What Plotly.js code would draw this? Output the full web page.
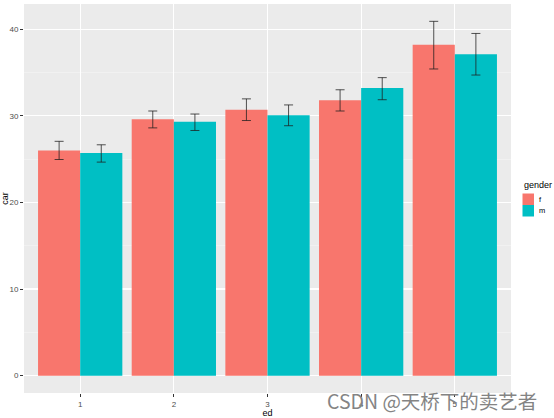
<!DOCTYPE html>
<html>
<head>
<meta charset="utf-8">
<script src="https://cdn.plot.ly/plotly-3.0.1.min.js"></script>
<style>html,body{margin:0;padding:0;background:#fff;}#chart{width:554px;height:418px;}</style>
</head>
<body>
<div id="chart"></div>
<script>
const edLevels = [1, 2, 3, 4, 5];
const genders = ['f', 'm'];
const genderColors = ['#F8766D', '#00BFC4'];
const fMean  = [26.0, 29.6, 30.7, 31.8, 38.2];
const fLower = [24.95, 28.6, 29.45, 30.55, 35.4];
const fUpper = [27.05, 30.55, 31.95, 33.0, 40.9];
const mMean  = [25.7, 29.3, 30.05, 33.2, 37.1];
const mLower = [24.65, 28.3, 28.85, 31.85, 34.7];
const mUpper = [26.65, 30.2, 31.25, 34.4, 39.5];

function errBar(mean, lo, hi) {
  return {
    type: 'data', symmetric: false,
    array: hi.map((v, i) => v - mean[i]),
    arrayminus: mean.map((v, i) => v - lo[i]),
    color: 'rgba(30,30,30,0.85)', thickness: 0.9, width: 4.5
  };
}

const traces = [
  {type: 'bar', name: genders[0], x: edLevels, y: fMean, marker: {color: genderColors[0]},
   error_y: errBar(fMean, fLower, fUpper)},
  {type: 'bar', name: genders[1], x: edLevels, y: mMean, marker: {color: genderColors[1]},
   error_y: errBar(mMean, mLower, mUpper)}
];

// plot geometry (pixels)
const W = 554, H = 418, ML = 24, MR = 43, MT = 4, MB = 25;
const PW = W - ML - MR, PH = H - MT - MB;
const px = x => (x - ML) / PW;          // pixel x -> paper x
const py = y => (H - MB - y) / PH;      // pixel y -> paper y

// manual legend (ggplot style)
const shapes = [];
const annotations = [];
annotations.push({xref: 'paper', yref: 'paper', x: px(521.5), y: py(185), xanchor: 'left', yanchor: 'middle',
  text: 'gender', showarrow: false, font: {size: 9, color: '#000'}});
genders.forEach((g, i) => {
  const top = 193.5 + i * 11.5;
  shapes.push({type: 'rect', xref: 'paper', yref: 'paper', x0: px(522.5), x1: px(534), y0: py(top), y1: py(top + 11.5),
    fillcolor: genderColors[i], line: {width: 0}, layer: 'above'});
  annotations.push({xref: 'paper', yref: 'paper', x: px(537), y: py(top + 5.75), xanchor: 'left', yanchor: 'middle',
    text: g, showarrow: false, font: {size: 7.5, color: '#000'}});
});
annotations.push({
  xref: 'paper', yref: 'paper', x: px(538.5), y: py(400), xanchor: 'right', yanchor: 'middle',
  text: 'CSDN @天桥下的卖艺者', showarrow: false,
  font: {family: 'Noto Sans CJK SC, sans-serif', size: 19.5, color: '#848484'}
});

const layout = {
  width: W, height: H,
  margin: {l: ML, r: MR, t: MT, b: MB, autoexpand: false},
  paper_bgcolor: '#FFFFFF', plot_bgcolor: '#EBEBEB',
  font: {family: 'Liberation Sans, Arial, sans-serif', color: '#000'},
  barmode: 'group', bargap: 0.1, bargroupgap: 0,
  showlegend: false,
  xaxis: {
    type: 'linear', range: [0.4, 5.6],
    tickvals: edLevels, ticktext: edLevels.map(String),
    showgrid: true, gridcolor: '#FFFFFF', gridwidth: 1.1,
    zeroline: false, showline: false,
    ticks: 'outside', ticklen: 3, tickwidth: 1, tickcolor: '#333333',
    tickfont: {size: 8, color: '#4D4D4D'},
    title: {text: 'ed', font: {size: 9, color: '#000'}, standoff: 1}
  },
  yaxis: {
    range: [-2.0, 42.9],
    tickvals: [0, 10, 20, 30, 40],
    showgrid: true, gridcolor: '#FFFFFF', gridwidth: 1.1,
    minor: {tickvals: [5, 15, 25, 35], showgrid: true, gridcolor: '#F5F5F5', gridwidth: 0.6, ticks: ''},
    zeroline: false, showline: false,
    ticks: 'outside', ticklen: 3, tickwidth: 1, tickcolor: '#333333',
    tickfont: {size: 8, color: '#4D4D4D'},
    title: {text: 'car', font: {size: 9, color: '#000'}, standoff: 2}
  },
  shapes: shapes,
  annotations: annotations
};

Plotly.newPlot('chart', traces, layout, {displayModeBar: false, staticPlot: true});
</script>
</body>
</html>
